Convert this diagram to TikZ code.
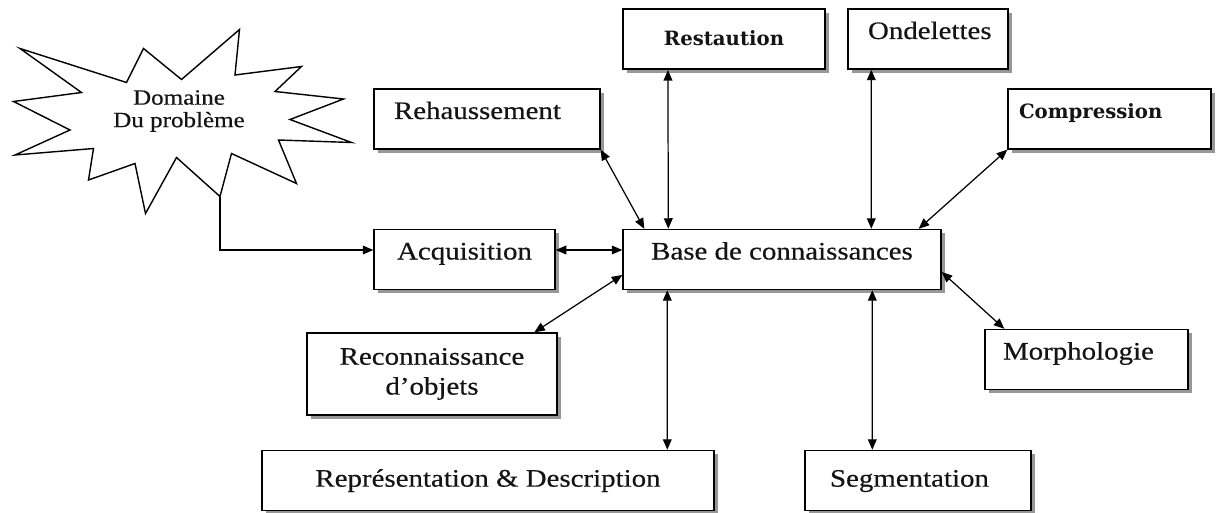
\documentclass[tikz,border=0pt]{standalone}
\usepackage{fontspec}
\setmainfont{Liberation Serif}[FakeStretch=1.15, FakeBold=0.4]
\newfontfamily\grasfont{DejaVu Serif}
\usepackage{tikz}
\usetikzlibrary{arrows.meta,shadows}

\newcommand{\boitefont}{\fontsize{14.3}{17}\selectfont}
\newcommand{\grasbold}{\grasfont\bfseries\fontsize{11.2}{12}\selectfont}

\tikzset{
  boite/.style={draw, fill=white, line width=0.8pt, inner sep=0pt, minimum height=1.2cm,
    text=black!92, font=\boitefont,
    drop shadow={shadow xshift=2.2pt, shadow yshift=-2.2pt, fill=black!45, opacity=0.9}},
  centre/.style={boite, text height=10pt, text depth=3pt},
  haut/.style={boite, text height=10pt, text depth=10pt},
  gauche/.style={text width=#1, align=left},
  fleche/.style={line width=0.7pt, <->, >={Triangle[length=6pt,width=5pt]}},
}

\begin{document}
\begin{tikzpicture}
  \useasboundingbox (0,0) rectangle (24.36,10.24);

  % Domaine du probleme
  \draw[line width=0.8pt] (0.40,9.27) -- (2.53,8.59) -- (2.87,9.27) -- (3.63,8.65)
    -- (4.79,9.65) -- (4.70,8.74) -- (6.03,8.91) -- (5.50,8.41) -- (6.87,8.26)
    -- (5.80,7.85) -- (7.03,7.39) -- (5.57,7.44) -- (5.93,6.57) -- (4.63,7.17)
    -- (4.40,6.31) -- (3.53,7.09) -- (2.91,5.97) -- (2.70,6.97) -- (1.77,6.64)
    -- (1.87,7.27) -- (0.30,7.14) -- (1.40,7.64) -- (0.27,8.21) -- (1.63,8.39) -- cycle;
  \coordinate (pied) at (4.40,6.31);
  \node[align=center, text=black!92, font=\fontsize{12.4}{12.8}\selectfont] (domaine) at (3.58,8.02) {Domaine\\Du problème};

  % Boites du haut
  \node[centre, minimum width=4.04cm, line width=1.2pt, font=\grasbold] (resta) at (14.48,9.46) {Restaution};
  \node[haut, minimum width=3.2cm, gauche=2.4cm] (ondel) at (18.56,9.46) {Ondelettes};
  \node[haut, minimum width=4.06cm, gauche=3.62cm, font=\grasbold] (compr) at (22.19,7.86) {Compression};
  \node[haut, minimum width=4.52cm, gauche=3.72cm] (rehauss) at (9.74,7.86) {Rehaussement};

  % Ligne du milieu
  \node[haut, minimum width=3.62cm] (acqui) at (9.29,5.05) {Acquisition};
  \node[haut, minimum width=6.36cm] (base) at (15.64,5.05) {Base de connaissances};

  % Boites du bas
  \node[boite, minimum width=5.0cm, minimum height=1.64cm, align=center] (recon) at (8.64,2.76) {Reconnaissance\\d’objets};
  \node[haut, minimum width=4.06cm, gauche=3.34cm] (morph) at (21.73,3.05) {Morphologie};
  \node[centre, minimum width=9.04cm] (repres) at (9.76,0.63) {Représentation \& Description};
  \node[centre, minimum width=4.52cm, gauche=3.52cm] (segm) at (18.36,0.63) {Segmentation};

  % Liaisons
  \draw[line width=0.7pt, -{Triangle[length=6pt,width=5pt]}] (pied) |- ([yshift=0.19cm]acqui.west);
  \draw[fleche] ([yshift=0.19cm]acqui.east) -- ([yshift=0.19cm]base.west);
  \draw[fleche] (rehauss.south east) -- ([xshift=0.44cm]base.north west);
  \draw[fleche] ([xshift=0.92cm]resta.south west) -- ([xshift=0.92cm]base.north west);
  \draw[fleche] ([xshift=0.48cm]ondel.south west) -- ([xshift=4.98cm]base.north west);
  \draw[fleche] (compr.south west) -- ([xshift=-0.46cm]base.north east);
  \draw[fleche] ([xshift=4.56cm]recon.north west) -- ([yshift=-0.31cm]base.west);
  \draw[fleche] ([yshift=-0.25cm]base.east) -- ([xshift=0.4cm]morph.north west);
  \draw[fleche] ([xshift=0.9cm]base.south west) -- ([xshift=8.12cm]repres.north west);
  \draw[fleche] ([xshift=5.0cm]base.south west) -- ([xshift=1.36cm]segm.north west);

\end{tikzpicture}
\end{document}
